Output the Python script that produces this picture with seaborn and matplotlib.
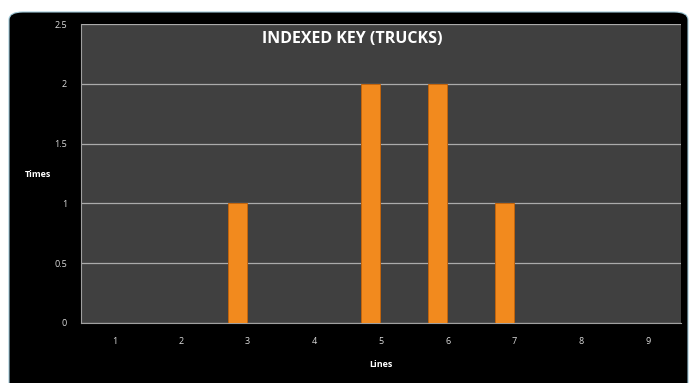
import matplotlib
matplotlib.use("Agg")
import matplotlib.pyplot as plt
from matplotlib.patches import FancyBboxPatch
import seaborn as sns
import pandas as pd
import numpy as np

categories = ["1", "2", "3", "4", "5", "6", "7", "8", "9"]
times = [0, 0, 1, 0, 2, 2, 1, 0, 0]
y_ticks = [0, 0.5, 1, 1.5, 2, 2.5]
y_tick_labels = ["0", "0.5", "1", "1.5", "2", "2.5"]

sns.set_theme(style="dark")
plt.rcParams["font.family"] = ["Open Sans", "DejaVu Sans"]

W, H = 692, 383
fig = plt.figure(figsize=(W / 100, H / 100), dpi=100)
fig.patch.set_facecolor("white")

# black chart-area background with rounded corners
bg = FancyBboxPatch((9 / W, -0.05), (679 / W), 1.05 - 12 / H,
                    boxstyle="round,pad=0,rounding_size=0.02",
                    transform=fig.transFigure, facecolor="black",
                    edgecolor="#9fc9d8", linewidth=0.8, zorder=-10)
fig.patches.append(bg)

ax = fig.add_axes([81 / W, 1 - 323 / H, (681 - 81) / W, (323 - 24) / H])
ax.set_zorder(5)
ax.set_facecolor("#404040")

df = pd.DataFrame({"Lines": categories, "Times": times})
sns.barplot(data=df, x="Lines", y="Times", ax=ax, color="#F28A1E",
            width=0.285, saturation=1, edgecolor="#c2640c", linewidth=0.7,
            zorder=3)
# the reference's bars sit slightly left of their category labels
for p in ax.patches:
    p.set_x(p.get_x() - 0.15)

ax.set_ylim(0, 2.5)
ax.set_xlim(-0.5, len(categories) - 0.5)
ax.set_yticks(y_ticks)
ax.set_yticklabels(y_tick_labels)
ax.yaxis.grid(True, color="#ababab", linewidth=0.9, zorder=1)
ax.xaxis.grid(False)
ax.set_axisbelow(True)

for s in ["top", "right"]:
    ax.spines[s].set_visible(False)
ax.spines["left"].set_color("#a0a0a0")
ax.spines["bottom"].set_color("#a0a0a0")
ax.spines["left"].set_linewidth(0.8)
ax.spines["bottom"].set_linewidth(0.8)

ax.tick_params(axis="both", colors="#dddddd", labelsize=6.5)
ax.tick_params(axis="y", length=3, width=0.6, color="#a0a0a0", pad=7)
ax.tick_params(axis="x", which="major", length=0, pad=10)
ax.set_xticks(np.arange(-0.5, len(categories), 1.0), minor=True)
ax.tick_params(axis="x", which="minor", length=3, width=0.6, color="#a0a0a0")

ax.set_xlabel("Lines", color="white", fontsize=6.5, fontweight="bold", labelpad=10)
ax.set_ylabel("")
fig.text(38 / W, 1 - 175 / H, "Times", color="white", fontsize=6.5,
         fontweight="bold", ha="center", va="center", zorder=6)

ax.text(0.452, 0.978, "INDEXED KEY (TRUCKS)", transform=ax.transAxes,
        color="white", fontsize=11.5, fontweight="bold", ha="center", va="top")

fig.savefig("out.png", dpi=100, facecolor=fig.get_facecolor())
